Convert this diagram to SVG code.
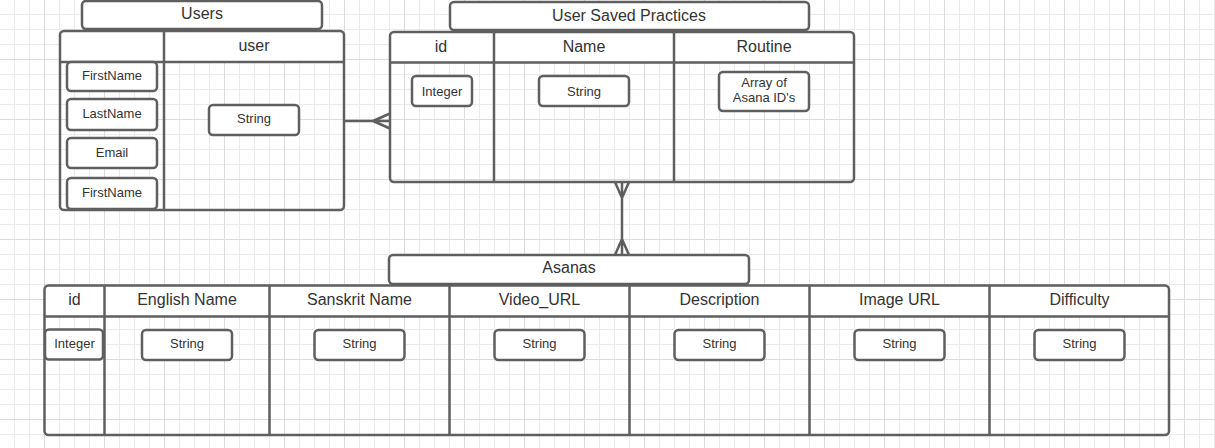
<svg xmlns="http://www.w3.org/2000/svg" width="1215" height="448" viewBox="0 0 1215 448">
<defs>
<pattern id="grid" x="44" y="59" width="60" height="60" patternUnits="userSpaceOnUse">
<path d="M15.5 0V60M30.5 0V60M45.5 0V60M0 15.5H60M0 30.5H60M0 45.5H60" stroke="#ebebeb" stroke-width="1" fill="none"/>
<path d="M0.5 0V60M0 0.5H60" stroke="#dcdcdc" stroke-width="1" fill="none"/>
</pattern>
<style>
.s{stroke:#5f5f5f;stroke-width:2.5;fill:none}
.w{stroke:#5f5f5f;stroke-width:2.5;fill:#fff}
.h{fill:#fff;stroke:none}
.t{font-family:"Liberation Sans",Arial,sans-serif;font-size:16px;fill:#333;text-anchor:middle}
.m{font-family:"Liberation Sans",Arial,sans-serif;font-size:13px;fill:#333;text-anchor:middle}
</style>
</defs>
<rect width="1215" height="448" fill="#fff"/>
<rect width="1215" height="448" fill="url(#grid)"/>

<g id="users">
<rect class="w" x="82" y="1" width="240" height="28" rx="4"/>
<text class="t" x="202" y="18.5">Users</text>
<rect class="h" x="60" y="31" width="284" height="31"/>
<rect class="s" x="60" y="31" width="284" height="179" rx="4"/>
<path class="s" d="M60 62H344M164 31V210"/>
<text class="t" x="254" y="51">user</text>
<rect class="w" x="67" y="62" width="90" height="29" rx="4"/>
<text class="m" x="112" y="80">FirstName</text>
<rect class="w" x="67" y="99" width="90" height="31" rx="4"/>
<text class="m" x="112" y="118">LastName</text>
<rect class="w" x="67" y="138" width="90" height="30" rx="4"/>
<text class="m" x="112" y="157">Email</text>
<rect class="w" x="67" y="178" width="90" height="31" rx="4"/>
<text class="m" x="112" y="197">FirstName</text>
<rect class="w" x="209" y="105" width="90" height="30" rx="4"/>
<text class="m" x="254" y="123">String</text>
</g>

<g id="user-saved-practices">
<rect class="w" x="450" y="2" width="359" height="28" rx="4"/>
<text class="t" x="629" y="20.5">User Saved Practices</text>
<rect class="h" x="390" y="32" width="464" height="30"/>
<rect class="s" x="390" y="32" width="464" height="150" rx="4"/>
<path class="s" d="M390 62.5H854M494 32V182M674 32V182"/>
<text class="t" x="441" y="51.5">id</text>
<text class="t" x="584" y="51.5">Name</text>
<text class="t" x="764" y="51.5">Routine</text>
<rect class="w" x="412" y="76" width="60" height="30" rx="4"/>
<text class="m" x="442" y="95.5">Integer</text>
<rect class="w" x="539" y="76" width="90" height="30" rx="4"/>
<text class="m" x="584" y="95.5">String</text>
<rect class="w" x="719" y="72" width="90" height="39" rx="4"/>
<text class="m" x="764" y="86.5">Array of</text>
<text class="m" x="764" y="102.3">Asana ID's</text>
</g>

<g id="asanas">
<rect class="w" x="389" y="255" width="360" height="29" rx="4"/>
<text class="t" x="569" y="273.3">Asanas</text>
<rect class="h" x="44.5" y="285.5" width="1124.5" height="31"/>
<rect class="s" x="44.5" y="285.5" width="1124.5" height="149.5" rx="4"/>
<path class="s" d="M44.5 316.5H1169M104.5 285.5V435M269.5 285.5V435M449.5 285.5V435M629.5 285.5V435M809.5 285.5V435M989.5 285.5V435"/>
<text class="t" x="74.5" y="305">id</text>
<text class="t" x="187" y="305">English Name</text>
<text class="t" x="359.5" y="305">Sanskrit Name</text>
<text class="t" x="539.5" y="305">Video_URL</text>
<text class="t" x="719.5" y="305">Description</text>
<text class="t" x="899.5" y="305">Image URL</text>
<text class="t" x="1079.5" y="305">Difficulty</text>
<rect class="w" x="45" y="329.5" width="58" height="30" rx="4"/>
<text class="m" x="74.5" y="348.3">Integer</text>
<rect class="w" x="142" y="330" width="90" height="30" rx="4"/>
<text class="m" x="187" y="348.3">String</text>
<rect class="w" x="314.5" y="330" width="90" height="30" rx="4"/>
<text class="m" x="359.5" y="348.3">String</text>
<rect class="w" x="494.5" y="330" width="90" height="30" rx="4"/>
<text class="m" x="539.5" y="348.3">String</text>
<rect class="w" x="674.5" y="330" width="90" height="30" rx="4"/>
<text class="m" x="719.5" y="348.3">String</text>
<rect class="w" x="854.5" y="330" width="90" height="30" rx="4"/>
<text class="m" x="899.5" y="348.3">String</text>
<rect class="w" x="1034.5" y="330" width="90" height="30" rx="4"/>
<text class="m" x="1079.5" y="348.3">String</text>
</g>

<g id="connectors">
<path class="s" d="M344 121H390M373 121L390 113.5M373 121L390 128.5"/>
<path class="s" d="M622 182V255M615 182L622 198L629 182M615 255L622 239L629 255"/>
</g>
</svg>
